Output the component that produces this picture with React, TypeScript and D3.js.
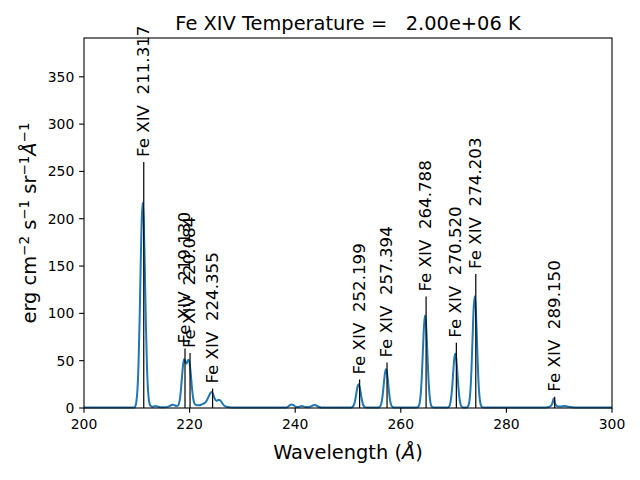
import React from 'react';
import * as d3 from 'd3';

const titleText = 'Fe XIV Temperature =   2.00e+06 K';
const lineWaves = [211.317, 219.13, 220.084, 224.355, 252.199, 257.394, 264.788, 270.52, 274.203, 289.15];
const lineHeights = [260, 63, 58, 20.5, 30, 48, 117.7, 69, 141.7, 12];
const xTicks = [200, 220, 240, 260, 280, 300];
const yTicks = [0, 50, 100, 150, 200, 250, 300, 350];
const xDomain = [200, 300];
const yDomain = [0, 391];

const spectrum: [number, number][] = [
  [200, 0.4], [203, 0.4], [206, 0.4], [208, 0.5], [209, 0.5], [209.5, 0.6],
  [209.72, 2.0], [209.92, 6.8], [210.12, 19], [210.32, 45.3], [210.52, 90], [210.72, 147],
  [210.92, 197], [211.12, 217], [211.32, 197], [211.52, 147], [211.72, 90], [211.92, 45.3],
  [212.12, 19.2], [212.32, 7.2], [212.52, 2.8], [212.8, 1.5], [213.1, 1.3], [213.5, 2.0],
  [213.9, 1.6], [214.4, 0.9], [215.2, 0.8], [215.8, 1.2], [216.3, 2.2], [216.7, 3.5],
  [217.1, 3.0], [217.5, 2.2], [217.8, 2.5], [218.0, 5], [218.2, 11], [218.4, 22],
  [218.6, 36], [218.8, 47], [218.95, 51.5], [219.1, 50.5], [219.25, 48], [219.4, 47],
  [219.55, 48.5], [219.7, 50.5], [219.82, 51], [219.95, 49], [220.1, 43], [220.3, 31],
  [220.5, 18.5], [220.7, 9.5], [220.9, 5], [221.1, 3.5], [221.4, 3], [221.8, 3],
  [222.2, 3.5], [222.6, 4.5], [223.0, 6], [223.3, 8.5], [223.6, 12], [223.9, 15.5],
  [224.15, 17], [224.4, 15.5], [224.65, 11.5], [224.9, 8.5], [225.15, 7.5], [225.4, 8.5],
  [225.65, 8.5], [225.9, 7.5], [226.2, 5], [226.5, 2.8], [226.9, 1.5], [227.5, 0.8],
  [228.5, 0.5], [231, 0.4], [234, 0.4], [237, 0.4], [238.3, 0.6], [238.7, 1.6],
  [239.0, 3.0], [239.3, 3.8], [239.6, 3.2], [239.9, 2.0], [240.3, 1.0], [240.7, 1.2],
  [241.0, 1.9], [241.25, 2.1], [241.5, 1.7], [241.9, 1.0], [242.4, 0.9], [242.9, 1.6],
  [243.3, 2.6], [243.7, 3.1], [244.0, 2.6], [244.4, 1.3], [244.9, 0.6], [245.6, 0.4],
  [248, 0.4], [250, 0.5], [250.6, 0.6], [250.8, 1.0], [251.0, 2.0], [251.2, 4.6],
  [251.4, 9.5], [251.6, 16.4], [251.8, 22.5], [252.0, 25], [252.2, 22.5], [252.4, 16.4],
  [252.6, 9.5], [252.8, 4.6], [253.0, 2.0], [253.2, 1.0], [253.5, 0.6], [254.5, 0.5],
  [255.8, 0.6], [256.0, 1.3], [256.2, 2.9], [256.4, 7.2], [256.6, 15.3], [256.8, 26.6],
  [257.0, 36.8], [257.2, 41], [257.4, 36.8], [257.6, 26.6], [257.8, 15.3], [258.0, 7.2],
  [258.2, 2.9], [258.4, 1.3], [258.7, 0.6], [260, 0.5], [262.9, 0.5], [263.2, 0.9],
  [263.4, 2.1], [263.6, 6.3], [263.8, 16.5], [264.0, 35.9], [264.2, 62.8], [264.4, 87.5],
  [264.6, 98], [264.8, 87.5], [265.0, 62.8], [265.2, 35.9], [265.4, 16.5], [265.6, 6.3],
  [265.8, 2.1], [266.0, 0.9], [266.3, 0.5], [268.8, 0.5], [269.12, 1.4], [269.32, 3.8],
  [269.52, 9.8], [269.72, 21.2], [269.92, 37], [270.12, 51.5], [270.32, 57.5], [270.52, 51.5],
  [270.72, 37], [270.92, 21.2], [271.12, 9.8], [271.32, 3.8], [271.52, 1.4], [271.8, 0.6],
  [272.3, 0.5], [272.6, 1.0], [272.8, 2.5], [273.0, 7.4], [273.2, 19.6], [273.4, 43],
  [273.6, 75.4], [273.8, 105.8], [274.0, 118], [274.2, 105.8], [274.4, 75.4], [274.6, 43],
  [274.8, 19.6], [275.0, 7.4], [275.2, 2.5], [275.4, 1.0], [275.8, 0.5], [280, 0.4],
  [284, 0.4], [287.5, 0.6], [288.0, 1.0], [288.4, 2.0], [288.7, 5], [288.95, 10],
  [289.2, 5], [289.5, 2.3], [289.9, 1.6], [290.4, 1.6], [290.9, 2.0], [291.3, 1.9],
  [291.8, 1.3], [292.5, 0.8], [293.5, 0.5], [296, 0.4], [300, 0.4],
];

const FONT = 'DejaVu Sans';

export default function App() {
  const left = 84, right = 612, top = 38, bottom = 408;
  const x = d3.scaleLinear().domain(xDomain).range([left, right]);
  const y = d3.scaleLinear().domain(yDomain).range([bottom, top]);
  const line = d3.line<[number, number]>()
    .x(d => x(d[0]))
    .y(d => y(d[1]))
    .curve(d3.curveMonotoneX);
  const tickLen = 4.86;

  return (
    <svg width={640} height={480} style={{ position: 'absolute', left: 0, top: 0, background: '#fff' }}
      fontFamily={FONT}>
      <rect x={0} y={0} width={640} height={480} fill="#fff" />
      <path d={line(spectrum) || ''} fill="none" stroke="#1f77b4" strokeWidth={2} strokeLinejoin="round" />
      {lineWaves.map((w, i) => (
        <line key={'l' + i} x1={x(w)} x2={x(w)} y1={y(0)} y2={y(lineHeights[i])} stroke="#000" strokeWidth={1.2} />
      ))}
      {lineWaves.map((w, i) => (
        <text key={'t' + i} transform={`translate(${x(w) - 0.5},${y(lineHeights[i]) - 5}) rotate(-90)`}
          fontSize={16.67} dominantBaseline="central" textAnchor="start" fill="#000"
          style={{ whiteSpace: 'pre' }}>
          {`Fe XIV  ${w.toFixed(3)}`}
        </text>
      ))}
      <rect x={left} y={top} width={right - left} height={bottom - top} fill="none" stroke="#000" strokeWidth={1.1} />
      {xTicks.map(t => (
        <g key={'xt' + t}>
          <line x1={x(t)} x2={x(t)} y1={bottom} y2={bottom + tickLen} stroke="#000" strokeWidth={1.1} />
          <text x={x(t)} y={bottom + 21} fontSize={13.9} textAnchor="middle" fill="#000">{t}</text>
        </g>
      ))}
      {yTicks.map(t => (
        <g key={'yt' + t}>
          <line x1={left - tickLen} x2={left} y1={y(t)} y2={y(t)} stroke="#000" strokeWidth={1.1} />
          <text x={left - 2 * tickLen} y={y(t)} dy="0.35em" fontSize={13.9} textAnchor="end" fill="#000">{t}</text>
        </g>
      ))}
      <text x={(left + right) / 2} y={30} fontSize={19.4} textAnchor="middle" fill="#000" style={{ whiteSpace: 'pre' }}>
        {titleText}
      </text>
      <text x={(left + right) / 2} y={459} fontSize={19.4} textAnchor="middle" fill="#000">
        Wavelength (<tspan fontStyle="italic">Å</tspan>)
      </text>
      <text transform={`translate(36,${(top + bottom) / 2}) rotate(-90)`} fontSize={19.4} textAnchor="middle" fill="#000">
        erg cm<tspan fontSize={13.5} dy={-7}>−2</tspan>
        <tspan dy={7}> s</tspan><tspan fontSize={13.5} dy={-7}>−1</tspan>
        <tspan dy={7}> sr</tspan><tspan fontSize={13.5} dy={-7}>−1</tspan>
        <tspan dy={7} fontStyle="italic">Å</tspan><tspan fontSize={13.5} dy={-7}>−1</tspan>
      </text>
    </svg>
  );
}
